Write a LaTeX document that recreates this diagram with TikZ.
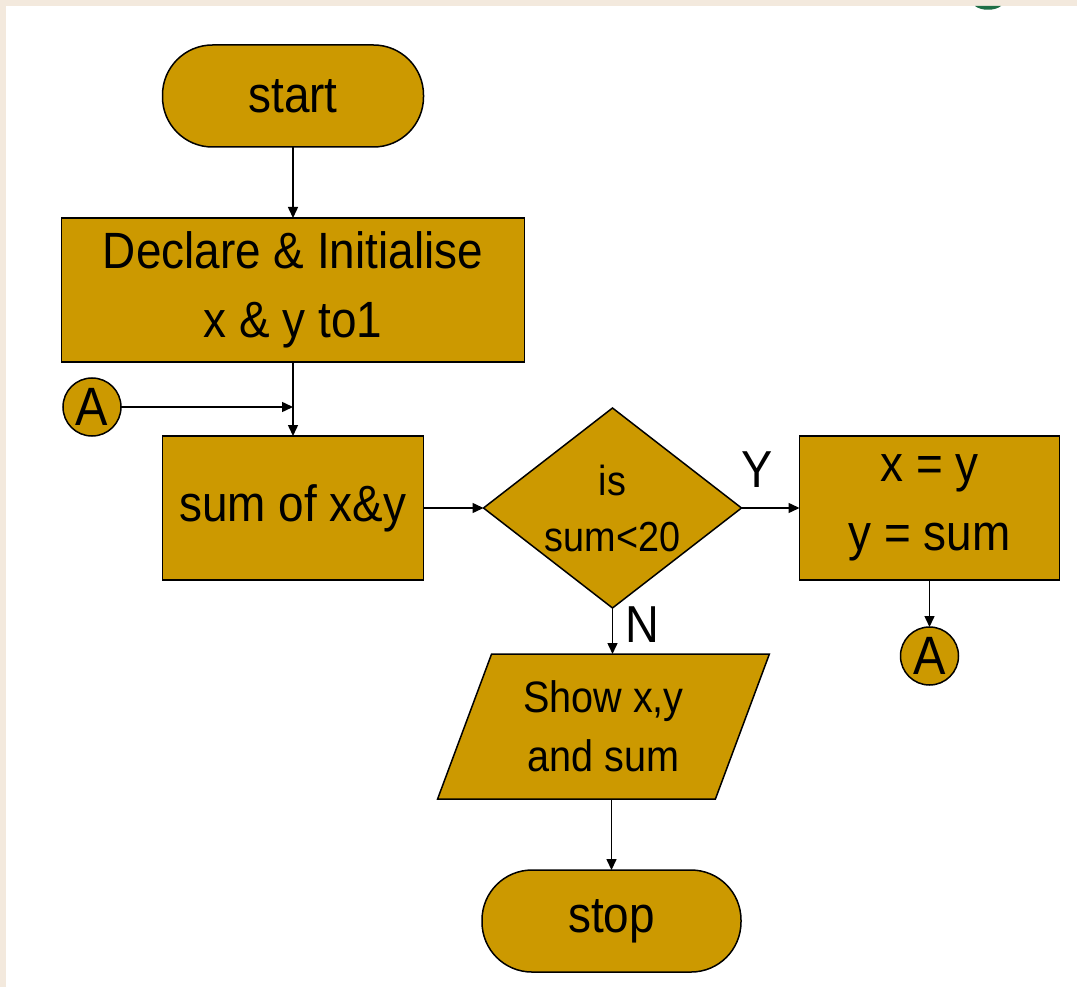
\documentclass[tikz,border=0pt]{standalone}
\usepackage{fontspec}
\setmainfont{Liberation Sans}[FakeStretch=0.9]
\usepackage{tikz}
\usetikzlibrary{positioning,arrows.meta,shapes.geometric}
\definecolor{gold}{RGB}{204,153,0}
\definecolor{paper}{RGB}{243,233,221}
\definecolor{leaf}{RGB}{30,110,70}

\begin{document}
\begin{tikzpicture}[
  x=1pt, y=-1pt,
  >={Triangle[length=11pt,width=10pt]},
  node distance=71pt,
  blk/.style={draw, line width=1.5pt, fill=gold, inner sep=0pt, outer sep=0pt, align=center, font=\fontsize{51}{69}\selectfont},
  term/.style={blk, rectangle, rounded corners=50pt, minimum width=261pt, minimum height=102pt},
  proc/.style={blk, rectangle, minimum height=144pt},
  io/.style={blk, trapezium, trapezium left angle=67, trapezium right angle=113, trapezium stretches=true, minimum width=332pt, minimum height=145pt, font=\fontsize{44}{59}\selectfont},
  decision/.style={blk, diamond, aspect=1.29, minimum width=258pt, minimum height=200pt, font=\fontsize{42}{56}\selectfont},
  con/.style={blk, circle, minimum size=58pt, font=\fontsize{54}{54}\selectfont},
  tag/.style={font=\fontsize{52}{52}\selectfont},
  line/.style={line width=1.5pt, ->}
]
\fill[paper] (0,0) rectangle (1077,987);
\fill[white] (6,6) rectangle (1077,987);
\fill[leaf] (975,6) .. controls (981,11) and (995,11) .. (1001,6) -- cycle;
\useasboundingbox (0,0) rectangle (1077,987);

\node[term] (start) at (293,96) {start};
\node[proc, minimum width=463pt, below=of start] (decl) {Declare \& Initialise\\x \& y to1};
\node[proc, minimum width=261pt, below=74pt of decl] (sum) {sum of x\&y};
\node[decision, right=60pt of sum] (test) {is\\sum<20};
\node[proc, minimum width=260pt, right=58pt of test] (swap) {x = y\\y = sum};
\node[con, below=47pt of swap] (conB) {A};
\node[io, below=46pt of test, xshift=-9pt] (show) {Show x,y\\and sum};
\node[term, minimum width=259pt, below=of show, xshift=8pt] (stop) {stop};
\node[con] (conA) at (92,407) {A};

\node[tag] (yes) at (757,470) {Y};
\node[tag] (no) at (642,625) {N};

\draw[line] (start) -- (decl);
\draw[line] (decl) -- (sum);
\draw[line] (conA) -- (conA -| decl.south);
\draw[line] (sum) -- (test);
\draw[line] (test) -- (swap);
\draw[line] (swap) -- (conB);
\draw[line] (test.south) -- (test.south |- show.north);
\draw[line] (stop.north |- show.south) -- (stop);
\end{tikzpicture}
\end{document}
